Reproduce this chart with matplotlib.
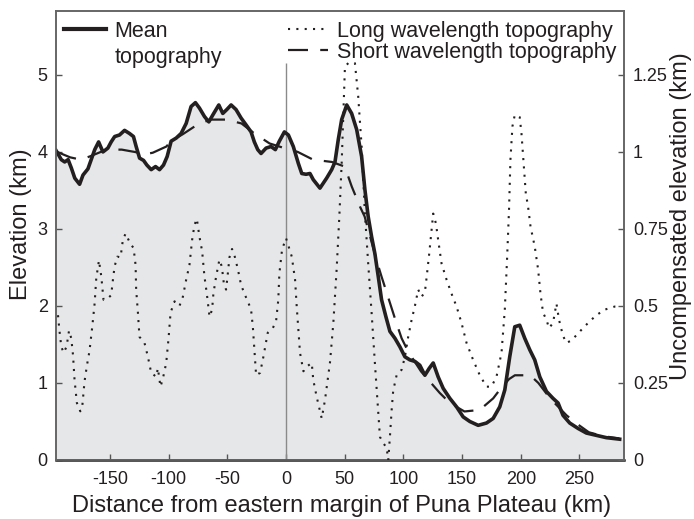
import matplotlib
matplotlib.use('Agg')
import matplotlib.pyplot as plt
from matplotlib.lines import Line2D

# mean topography (km)
mean_x = [-196, -191.5, -188.6, -185.7, -182.9, -180, -175.9, -173, -168.8, -166,
          -163, -159.7, -156, -151.8, -149, -146, -141.9, -137.6, -133.4, -130,
          -127.7, -124.8, -121.4, -118.6, -114.9, -111.2, -107.8, -104.4, -101.3, -97.9,
          -93.6, -89.4, -85.1, -80.9, -77.2, -73.8, -69.5, -65.8, -62.4, -57.3,
          -53.9, -50.5, -46.8, -42.6, -38.3, -34, -29.8, -27, -24.1, -21.3,
          -17, -12.8, -9.1, -5.7, -1.4, 2, 6.2, 10.5, 13.4, 17,
          20.4, 23.2, 28.9, 34.6, 38.9, 41.7, 44.5, 47.4, 51.7, 55.9,
          60.2, 64.4, 67.2, 70, 72.9, 75.7, 78.6, 81.4, 85.1, 88.5,
          92.8, 97, 101.3, 105.5, 109.8, 114, 118.3, 122, 125.4, 129.6,
          133.9, 139.6, 145.3, 150.9, 156.6, 163.7, 170.8, 176.5, 182.1, 186.4,
          190.6, 194.9, 199.1, 203.4, 207.7, 211.9, 216.2, 221.9, 227.5, 231.8,
          236, 241.7, 248.8, 255.9, 264.4, 272.9, 284.3]
mean_y = [4.02, 3.90, 3.87, 3.90, 3.79, 3.66, 3.58, 3.70, 3.78, 3.90,
          4.03, 4.13, 4.00, 4.05, 4.13, 4.20, 4.22, 4.28, 4.24, 4.20,
          4.07, 3.92, 3.89, 3.83, 3.77, 3.81, 3.77, 3.83, 3.94, 4.14,
          4.18, 4.24, 4.37, 4.59, 4.64, 4.57, 4.46, 4.39, 4.48, 4.61,
          4.50, 4.55, 4.61, 4.55, 4.44, 4.35, 4.26, 4.13, 4.03, 3.98,
          4.05, 4.07, 4.03, 4.14, 4.26, 4.22, 4.07, 3.85, 3.72, 3.71,
          3.72, 3.64, 3.53, 3.66, 3.77, 3.87, 4.16, 4.42, 4.61, 4.50,
          4.29, 3.94, 3.51, 3.16, 2.90, 2.68, 2.38, 2.08, 1.86, 1.67,
          1.58, 1.47, 1.34, 1.30, 1.28, 1.23, 1.10, 1.19, 1.26, 1.08,
          0.93, 0.80, 0.69, 0.56, 0.50, 0.45, 0.48, 0.54, 0.69, 0.91,
          1.34, 1.73, 1.75, 1.58, 1.43, 1.30, 1.08, 0.89, 0.80, 0.74,
          0.58, 0.48, 0.41, 0.35, 0.32, 0.29, 0.27]

# short wavelength topography (km)
short_x = [-195, -184, -175, -167.5, -153, -140, -129, -120, -113.5, -102,
           -98, -88, -78, -65, -51, -38, -27, -14, -1.5, 10,
           23, 39, 50, 56, 63, 67, 77, 81.4, 94, 98.5,
           104, 115, 131, 139.6, 152, 165, 176.5, 182, 190, 195,
           208, 215, 225, 239, 247, 258, 270, 284]
short_y = [4.00, 3.93, 3.90, 3.94, 4.03, 4.03, 4.00, 3.97, 3.99, 4.07,
           4.14, 4.23, 4.33, 4.42, 4.42, 4.37, 4.24, 4.11, 4.05, 4.00,
           3.90, 3.87, 3.81, 3.55, 3.29, 3.16, 2.60, 2.38, 1.78, 1.58,
           1.41, 1.15, 0.87, 0.74, 0.63, 0.65, 0.80, 0.91, 1.05, 1.10,
           1.10, 1.00, 0.80, 0.58, 0.48, 0.36, 0.31, 0.28]

# long wavelength topography = uncompensated elevation (km, right axis)
long_x = [-194.3, -193, -191.5, -189.5, -187, -184.9, -183, -181.5, -180.2, -178.2,
          -175.3, -173.6, -171.7, -169.6, -167.5, -165.1, -163.1, -161.7, -159.4, -157.4,
          -155.5, -151.8, -149, -147.5, -146.1, -143.8, -141, -139, -136.7, -132.8,
          -129.9, -128.2, -127.7, -126.2, -124.9, -120.6, -117.7, -114.9, -110.6, -109.2,
          -107, -105, -102.1, -100.1, -98.4, -95, -90.8, -87.9, -85.1, -82.3,
          -80, -78, -76, -73.8, -71.5, -69.5, -67.5, -65.2, -63, -61.9,
          -59.6, -56.8, -54.7, -53, -51.1, -49.6, -48.2, -46, -44, -41.1,
          -38.3, -34.9, -32.6, -29.8, -28.3, -27, -25.5, -22.1, -19.3, -15.6,
          -11.3, -8.5, -6.6, -5.7, -3.4, 0, 4.9, 7.7, 9.1, 10.5,
          11.9, 14.8, 17.6, 21.9, 23.2, 26.1, 30.4, 33.2, 37.4, 40.3,
          43.1, 45.4, 47.4, 48.8, 50.2, 53.6, 58.7, 61.5, 64.4, 67.2,
          70, 72.9, 75.7, 78.6, 80, 82.8, 85.7, 87.1, 88.5, 90,
          91.3, 94.2, 98.5, 101.3, 104.1, 107, 109.8, 112.6, 115.5, 118.3,
          119.7, 122, 124, 125.4, 127.7, 129.6, 132.5, 136.8, 141, 145.3,
          149.5, 153.8, 159.4, 165.1, 170.8, 175, 179.3, 183.6, 186.4, 188.3,
          190, 191.2, 192.9, 194.9, 199.1, 200.6, 202.6, 204.3, 206.2, 208.3,
          211.9, 214.8, 216.8, 219, 221.9, 224.1, 227.5, 230.4, 232.6, 236,
          238.9, 243.1, 247.4, 253, 258.7, 264.4, 271.5, 280, 285.7]
long_y = [0.470, 0.418, 0.368, 0.348, 0.368, 0.420, 0.395, 0.340, 0.260, 0.185,
          0.158, 0.175, 0.255, 0.308, 0.353, 0.433, 0.508, 0.590, 0.648, 0.595,
          0.520, 0.525, 0.535, 0.585, 0.628, 0.660, 0.658, 0.715, 0.735, 0.703,
          0.688, 0.633, 0.553, 0.478, 0.400, 0.380, 0.335, 0.283, 0.270, 0.298,
          0.238, 0.263, 0.315, 0.395, 0.478, 0.515, 0.500, 0.530, 0.585, 0.633,
          0.715, 0.763, 0.783, 0.725, 0.678, 0.595, 0.540, 0.465, 0.488, 0.540,
          0.595, 0.650, 0.628, 0.573, 0.553, 0.605, 0.658, 0.685, 0.665, 0.620,
          0.568, 0.535, 0.515, 0.488, 0.433, 0.358, 0.275, 0.283, 0.335, 0.413,
          0.428, 0.450, 0.520, 0.605, 0.683, 0.720, 0.660, 0.585, 0.498, 0.423,
          0.348, 0.288, 0.303, 0.315, 0.260, 0.205, 0.135, 0.195, 0.315, 0.445,
          0.618, 0.790, 0.963, 1.125, 1.278, 1.290, 1.288, 1.180, 1.018, 0.800,
          0.638, 0.478, 0.315, 0.153, 0.075, 0.055, 0.040, 0.0, 0.075, 0.163,
          0.225, 0.275, 0.293, 0.335, 0.400, 0.455, 0.500, 0.553, 0.530, 0.545,
          0.590, 0.670, 0.748, 0.800, 0.768, 0.715, 0.638, 0.585, 0.540, 0.498,
          0.445, 0.380, 0.325, 0.275, 0.238, 0.238, 0.270, 0.348, 0.488, 0.650,
          0.813, 0.975, 1.083, 1.120, 1.113, 1.060, 0.953, 0.865, 0.823, 0.758,
          0.693, 0.618, 0.540, 0.478, 0.455, 0.428, 0.445, 0.508, 0.455, 0.403,
          0.380, 0.388, 0.405, 0.428, 0.450, 0.470, 0.488, 0.498, 0.498]

x_ticks = [-150, -100, -50, 0, 50, 100, 150, 200, 250]
left_ticks = [0, 1, 2, 3, 4, 5]
right_ticks = [0, 0.25, 0.5, 0.75, 1, 1.25]
right_labels = ['0', '0.25', '0.5', '0.75', '1', '1.25']

plt.rcParams['font.family'] = ['Liberation Sans', 'DejaVu Sans']
txt = '#231f20'
tick_fs = 13
label_fs = 17
leg_fs = 15.5
dotted = (0, (1, 3))
dashed = (0, (9, 5.5))

fig = plt.figure(figsize=(6.94, 5.19), dpi=100)
ax = fig.add_axes([0.0807, 0.1137, 0.8185, 0.8651])
ax2 = ax.twinx()

ax.fill_between(mean_x + [289], mean_y + [mean_y[-1]], 0, color='#e6e7e8', lw=0, zorder=1)
ax.vlines(0, 0, 5.15, color='#8a8a8a', lw=1, zorder=2)
ax.plot(short_x, short_y, color=txt, lw=1.6, ls=dashed, zorder=3)
ax.plot(mean_x, mean_y, color=txt, lw=2.6, solid_joinstyle='round', zorder=4)
ax2.plot(long_x, long_y, color=txt, lw=1.5, ls=dotted, zorder=3)

ax.set_xlim(-196, 288)
ax.set_ylim(0, 5.83)
ax2.set_ylim(0, 5.83 / 4)

ax.set_xticks(x_ticks)
ax.set_xticklabels([str(t) for t in x_ticks])
ax.set_yticks(left_ticks)
ax2.set_yticks(right_ticks)
ax2.set_yticklabels(right_labels)

for a in (ax, ax2):
    a.tick_params(direction='in', length=4, width=1, colors='#555555',
                  labelcolor=txt, labelsize=tick_fs, pad=6)
    for s in a.spines.values():
        s.set_color('#666666')
        s.set_linewidth(1.2)
ax.spines['bottom'].set_color(txt)
ax.spines['bottom'].set_linewidth(1.8)
ax.tick_params(axis='x', pad=8)
ax2.tick_params(axis='y', pad=6.5)

ax.set_xlabel('Distance from eastern margin of Puna Plateau (km)', fontsize=label_fs, color=txt)
ax.set_ylabel('Elevation (km)', fontsize=label_fs, color=txt)
ax2.set_ylabel('Uncompensated elevation (km)', fontsize=label_fs, color=txt)
ax.xaxis.set_label_coords(0.503, -0.077)
ax.yaxis.set_label_coords(-0.042, 0.525)
ax2.yaxis.set_label_coords(1.081, 0.543)

h_mean = Line2D([], [], color=txt, lw=3)
h_blank = Line2D([], [], color='none')
leg1 = ax2.legend([h_mean, h_blank], ['Mean', 'topography'], loc='upper left',
                  bbox_to_anchor=(-0.003, 1.0), frameon=False, fontsize=leg_fs,
                  handlelength=1.95, handletextpad=0.4, labelspacing=0.25,
                  borderaxespad=0, borderpad=0.45, labelcolor=txt)
ax2.add_artist(leg1)
h_long = Line2D([], [], color=txt, lw=1.5, ls=dotted)
h_short = Line2D([], [], color=txt, lw=1.6, ls=dashed)
ax2.legend([h_long, h_short], ['Long wavelength topography', 'Short wavelength topography'],
           loc='upper right', bbox_to_anchor=(1.004, 1.0), frameon=False, fontsize=leg_fs,
           handlelength=1.85, handletextpad=0.45, labelspacing=0.0,
           borderaxespad=0, borderpad=0.45, labelcolor=txt)

fig.savefig('out.png', dpi=100)
